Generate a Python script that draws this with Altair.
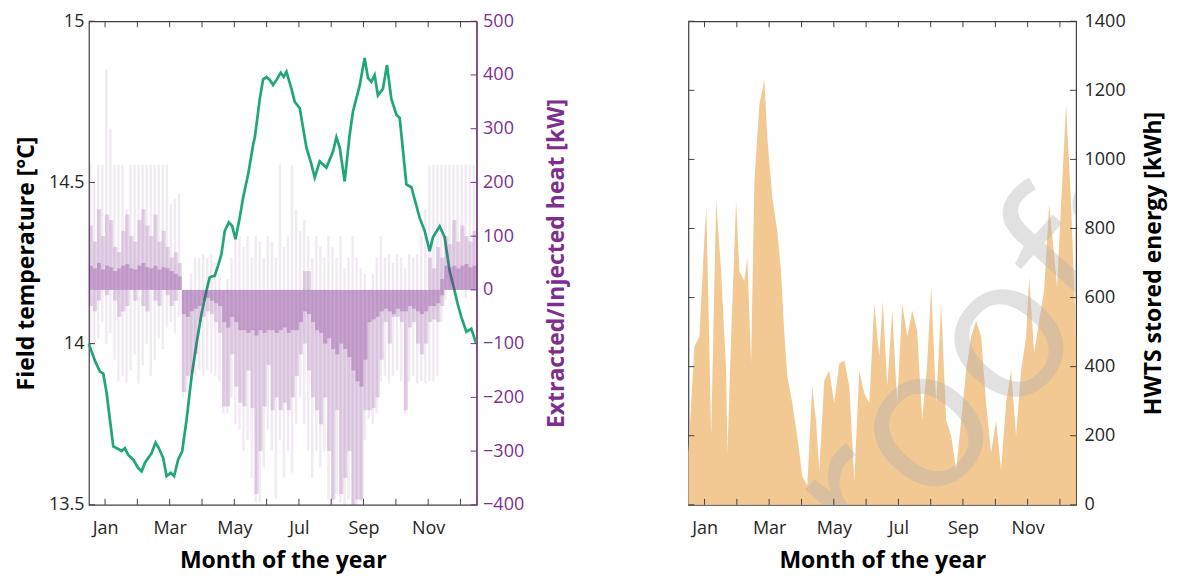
import altair as alt
import pandas as pd

# ---------------- data ----------------
# Field temperature (left panel, green line), day of year -> degC
temp_day = [0.0, 0.9, 5.6, 10.3, 13.5, 16.7, 19.8, 22.9, 27.6, 30.8, 33.9, 37.0, 41.7, 46.4, 49.6,
            52.7, 55.8, 59.0, 62.7, 65.8, 69.9, 73.1, 77.1, 80.2, 84.0, 87.8, 91.9, 96.6, 101.3, 106.0,
            110.7, 113.8, 118.5, 121.6, 124.8, 127.9, 131.7, 134.8, 138.0, 142.0, 145.2, 149.9, 154.6, 156.2, 160.9,
            164.0, 167.2, 170.3, 173.4, 176.6, 180.6, 183.4, 186.0, 190.7, 193.8, 198.5, 204.8, 209.5, 212.6, 217.3,
            223.6, 229.8, 233.0, 236.1, 240.8, 245.5, 248.6, 254.9, 259.6, 262.7, 265.9, 269.0, 272.1, 276.8, 280.6,
            284.7, 289.5, 292.6, 298.9, 303.6, 311.4, 316.1, 320.8, 323.9, 330.2, 334.9, 339.6, 344.3, 347.4, 350.6,
            355.3, 360.0, 364.7]
temp_val = [14.00, 13.99, 13.948, 13.913, 13.907, 13.846, 13.763, 13.681, 13.673, 13.667, 13.676, 13.655, 13.64, 13.614, 13.604,
            13.63, 13.645, 13.66, 13.693, 13.676, 13.645, 13.589, 13.599, 13.589, 13.64, 13.666, 13.763, 13.897, 14.0, 14.093,
            14.165, 14.206, 14.211, 14.242, 14.278, 14.35, 14.376, 14.365, 14.324, 14.391, 14.453, 14.525, 14.617, 14.64, 14.76,
            14.82, 14.827, 14.818, 14.802, 14.818, 14.84, 14.827, 14.843, 14.79, 14.75, 14.73, 14.608, 14.556, 14.515, 14.565,
            14.546, 14.596, 14.64, 14.608, 14.503, 14.648, 14.72, 14.80, 14.886, 14.824, 14.812, 14.833, 14.77, 14.79, 14.864,
            14.76, 14.71, 14.70, 14.494, 14.485, 14.39, 14.35, 14.287, 14.33, 14.364, 14.33, 14.225, 14.164, 14.12, 14.083,
            14.037, 14.046, 14.0]

# Extracted / injected heat [kW], 96 bins over the year, three density levels
heat_pos_faint = [233, 200, 233, 233, 410, 300, 233, 233, 233, 150, 233, 233, 233, 233, 233, 233, 233, 233, 233, 233, 160, 170, 180,
                  0, 0, 30, 60, 60,
                  67, 60, 67, 50, 30,
                  0, 20, 60, 100,
                  100, 80, 100, 60, 100, 90, 60, 100,
                  90, 60, 233, 80, 100, 233, 150, 110,
                  130, 100, 60,
                  100, 80, 60, 100, 80, 60, 100, 40, 60, 100, 60, 40, 30,
                  0, 30, 60, 100,
                  60, 67, 50, 67, 60, 40, 67, 60, 67, 100, 150,
                  233, 233, 233, 233,
                  233, 233, 233, 233, 233, 233, 233, 233]
heat_pos_mid = [120, 90, 150, 100, 140, 130, 80, 70, 110, 140, 100, 90, 130, 150, 120, 100, 140, 90, 110, 80, 60, 70, 50,
                0, 0, 0, 0, 0, 0, 0, 0, 0, 0, 0, 0, 0, 0, 0, 0, 0, 0, 0, 0, 0, 0, 0, 0, 0, 0, 0, 0, 0, 0,
                35, 35, 0,
                0, 0, 0, 0, 0, 0, 0, 0, 0, 0, 0, 0, 0, 0, 0, 0, 0, 0, 0, 0, 0, 0, 0, 0, 0, 0, 0, 0,
                60, 40, 80, 60,
                100, 85, 130, 90, 120, 100, 90, 110]
heat_pos_dense = [45, 40, 50, 38, 45, 42, 35, 40, 45, 48, 40, 38, 45, 50, 42, 40, 45, 38, 42, 40, 35, 30, 25,
                  0, 0, 0, 0, 0, 0, 0, 0, 0, 0, 0, 0, 0, 0, 0, 0, 0, 0, 0, 0, 0, 0, 0, 0, 0, 0, 0, 0, 0, 0,
                  0, 0, 0, 0, 0, 0, 0, 0, 0, 0, 0, 0, 0, 0, 0, 0, 0, 0, 0, 0, 0, 0, 0, 0, 0, 0, 0, 0, 0, 0, 0,
                  0, 0, 0, 20,
                  45, 42, 45, 40, 45, 48, 42, 45]
heat_neg_faint = [-110, -140, -90, -60, -100, -80, -130, -170, -160, -174, -150, -120, -174, -140, -100, -160, -130, -90, -110, -70, -60, -80, -50,
                  -200, -190, -170, -160, -150,
                  -160, -150, -155, -160, -170,
                  -230, -230, -200, -250,
                  -260, -300, -280, -350, -395, -395, -330, -260,
                  -300, -390, -280, -350, -300, -340, -250, -200,
                  -250, -300, -350,
                  -300, -330, -300, -390, -400, -380, -395, -400, -390, -400, -400, -395, -280,
                  -240, -250, -230, -170,
                  -160, -174, -160, -150, -170, -230, -170, -160, -174, -170, -174,
                  -170, -170, -160, -60,
                  -20, 0, -10, 0, 0, -15, 0, 0]
heat_neg_mid = [-30, -40, -20, 0, -10, 0, -20, -50, -40, -30, 0, -20, 0, -30, -40, 0, -20, -30, 0, -10, -30, -20, 0,
                -190, -160, -155, -120, -60,
                -50, -40, -45, -60, -80,
                -217, -217, -120, -180,
                -210, -217, -150, -220, -380, -300, -217, -140,
                -224, -200, -224, -210, -224, -200, -160, -120,
                -100, -150, -200,
                -224, -250, -200, -300, -390, -224, -380, -350, -300, -400, -390, -390, -224,
                -224, -220, -200, -130,
                -60, -100, -50, -50, -60, -224, -70, -60, -100, -120, -100,
                -60, -55, -60, -30,
                0, 0, 0, 0, 0, 0, 0, 0]
heat_neg_dense = [0, 0, 0, 0, 0, 0, 0, 0, 0, 0, 0, 0, 0, 0, 0, 0, 0, 0, 0, 0, 0, 0, 0,
                  -45, -50, -40, -35, -30,
                  -20, -15, -20, -25, -30,
                  -60, -70, -50, -60,
                  -75, -75, -80, -75, -85, -75, -80, -75,
                  -75, -80, -75, -70, -80, -75, -75, -60,
                  -40, -45, -60,
                  -75, -80, -100, -90, -110, -120, -100, -110, -125, -150, -170, -180, -130,
                  -60, -55, -50, -40,
                  -35, -40, -45, -35, -40, -40, -30, -35, -40, -45, -40,
                  -30, -30, -25, -10,
                  0, 0, 0, 0, 0, 0, 0, 0]

# HWTS stored energy [kWh] (right panel, orange area)
hwts_day = [0.0, 0.9, 5.6, 10.3, 15.1, 16.9, 21.4, 26.1, 30.8, 35.5, 36.7, 40.2, 44.9, 48.0, 52.7,
            55.5, 59.0, 62.1, 66.8, 71.5, 74.3, 79.0, 83.7, 87.2, 90.3, 93.1, 97.8, 102.5, 107.2, 111.9,
            116.6, 120.1, 123.2, 127.9, 132.6, 137.3, 142.0, 146.8, 151.5, 156.2, 160.9, 165.6, 170.3, 175.0, 179.7,
            183.0, 187.2, 191.9, 196.6, 201.3, 206.0, 210.7, 215.4, 220.1, 224.8, 228.6, 233.3, 238.0, 242.7, 247.4,
            252.1, 256.8, 261.5, 266.2, 270.9, 275.6, 280.3, 285.0, 289.7, 294.4, 299.1, 303.8, 308.5, 313.3, 318.0,
            320.8, 325.5, 330.2, 334.9, 339.6, 344.3, 347.1, 350.9, 355.6, 360.3, 365.0]
hwts_val = [150, 199, 458, 487, 775, 860, 199, 880, 677, 389, 150, 487, 880, 677, 648,
            716, 409, 936, 1158, 1230, 1063, 890, 792, 677, 496, 372, 294, 199, 83, 55,
            343, 245, 101, 360, 389, 294, 409, 418, 343, 72, 389, 323, 294, 582, 430,
            590, 343, 562, 294, 582, 487, 562, 504, 245, 409, 631, 294, 582, 245, 199,
            101, 245, 389, 487, 533, 487, 294, 150, 245, 101, 294, 389, 199, 389, 487,
            660, 438, 533, 619, 870, 726, 631, 870, 1158, 870, 487]

month_tick_days = [15.2, 45.6, 76.0, 106.5, 136.9, 167.3, 197.7, 228.1, 258.5, 289.0, 319.4, 349.8]
month_label_days = [15.2, 76.0, 136.9, 197.7, 258.5, 319.4]
month_labels = ["Jan", "Mar", "May", "Jul", "Sep", "Nov"]
temp_ticks = [13.5, 14.0, 14.5, 15.0]
heat_ticks = [-400, -300, -200, -100, 0, 100, 200, 300, 400, 500]
hwts_ticks = [0, 200, 400, 600, 800, 1000, 1200, 1400]
watermark = ["proofs"]

# ---------------- style ----------------
W, H = 388, 484
GREEN = "#1FA67A"
PURPLE = "#7E2F8E"
ORANGE = "#F2C993"
FRAME = "#404040"
FONT = "Open Sans"
TL = 6  # inward tick length
STREAK = {"faint": 0.6, "mid": 1.0, "dense": 1.0}  # fraction of bin width drawn

temp_df = pd.DataFrame({"day": temp_day, "temp": temp_val})
n = len(heat_pos_faint)
rows = []
levels = [("faint", heat_pos_faint, heat_neg_faint),
          ("mid", heat_pos_mid, heat_neg_mid),
          ("dense", heat_pos_dense, heat_neg_dense)]
for i in range(n):
    bw = 365 / n
    s = i * bw
    for lvl, pos, neg in levels:
        e = s + bw * STREAK[lvl]
        rows.append({"day": s, "end": e, "base": 0, "heat": pos[i], "level": lvl})
        rows.append({"day": s, "end": e, "base": 0, "heat": neg[i], "level": lvl})
heat_df = pd.DataFrame(rows)
hwts_df = pd.DataFrame({"day": hwts_day, "kwh": hwts_val})
mt_df = pd.DataFrame({"day": month_tick_days})
tt_df = pd.DataFrame({"temp": temp_ticks})
ht_df = pd.DataFrame({"heat": heat_ticks})
wt_df = pd.DataFrame({"kwh": hwts_ticks})
wm_df = pd.DataFrame({"t": watermark})

label_expr = "['" + "','".join(month_labels) + "'][round((datum.value - 15.2) / 60.84)]"
xscale = alt.Scale(domain=[0, 365], nice=False, zero=False)
xaxis = alt.Axis(values=month_label_days, labelExpr=label_expr, title="Month of the year",
                 ticks=False, domain=False, grid=False, labelPadding=15, titlePadding=12)

tscale = alt.Scale(domain=[13.5, 15], nice=False, zero=False)
taxis = alt.Axis(orient="left", values=temp_ticks, format="~g", title="Field temperature [°C]",
                 ticks=False, domain=False, grid=False, labelPadding=5, titlePadding=10)
hscale = alt.Scale(domain=[-400, 500], nice=False, zero=False)
haxis = alt.Axis(orient="right", values=heat_ticks, title="Extracted/Injected heat [kW]",
                 ticks=False, domain=True, domainColor=PURPLE, domainWidth=1.2, grid=False,
                 labelColor=PURPLE, titleColor=PURPLE, labelPadding=6, titlePadding=22,
                 titleAngle=270, titleBaseline="top")
wscale = alt.Scale(domain=[0, 1400], nice=False, zero=False)
waxis = alt.Axis(orient="right", values=hwts_ticks, format="d", title="HWTS stored energy [kWh]",
                 ticks=False, domain=False, grid=False, labelPadding=8, titlePadding=17,
                 titleAngle=270, titleBaseline="top")

X = alt.X("day:Q", scale=xscale, axis=xaxis)

def xticks(color):
    bottom = alt.Chart(mt_df).mark_rule(color=color, strokeWidth=1).encode(
        x=X, y=alt.value(H), y2=alt.value(H - TL))
    top = alt.Chart(mt_df).mark_rule(color=color, strokeWidth=1).encode(
        x=X, y=alt.value(0), y2=alt.value(TL))
    return bottom + top

# ----- left panel -----
line = alt.Chart(temp_df).mark_line(color=GREEN, strokeWidth=2.7).encode(
    x=X, y=alt.Y("temp:Q", scale=tscale, axis=taxis))
tticks = alt.Chart(tt_df).mark_rule(color=FRAME).encode(
    y=alt.Y("temp:Q", scale=tscale, axis=taxis), x=alt.value(0), x2=alt.value(TL))
left_a = alt.layer(line, tticks, xticks(FRAME))

bars = alt.Chart(heat_df).mark_rect(color=PURPLE).encode(
    x=X, x2="end:Q",
    y=alt.Y("heat:Q", scale=hscale, axis=haxis), y2="base:Q",
    opacity=alt.Opacity("level:N", scale=alt.Scale(domain=["faint", "mid", "dense"],
                                                   range=[0.1, 0.3, 0.45]), legend=None))
hticks = alt.Chart(ht_df).mark_rule(color=PURPLE).encode(
    y=alt.Y("heat:Q", scale=hscale, axis=haxis), x=alt.value(W), x2=alt.value(W - TL))
left_b = alt.layer(bars, hticks)

left = alt.layer(left_a, left_b).resolve_scale(y="independent").properties(width=W, height=H)

# ----- right panel -----
area = alt.Chart(hwts_df).mark_area(color=ORANGE, opacity=1, interpolate="linear").encode(
    x=X, y=alt.Y("kwh:Q", scale=wscale, axis=waxis))
mark_wm = alt.Chart(wm_df).mark_text(font=FONT, fontSize=200, angle=312, color="#B0B0B0",
                                     opacity=0.38, align="center", baseline="middle",
                                     clip=True).encode(
    text="t:N", x=alt.value(262), y=alt.value(378))
wl = alt.Chart(wt_df).mark_rule(color=FRAME).encode(
    y=alt.Y("kwh:Q", scale=wscale, axis=waxis), x=alt.value(0), x2=alt.value(TL))
wr = alt.Chart(wt_df).mark_rule(color=FRAME).encode(
    y=alt.Y("kwh:Q", scale=wscale, axis=waxis), x=alt.value(W), x2=alt.value(W - TL))
right = alt.layer(area, mark_wm, wl, wr, xticks(FRAME)).properties(width=W, height=H)

chart = alt.hconcat(left, right, spacing=212, bounds="flush").properties(
    padding={"left": 6, "top": 3, "right": 3, "bottom": 0}, background="white"
).configure_view(stroke=FRAME, strokeWidth=1.2).configure_axis(
    labelFont=FONT, labelFontSize=18, labelColor="#262626",
    titleFont=FONT, titleFontSize=23, titleFontWeight="bold", titleColor="#000000",
)

chart.save("out.html", embed_options={"renderer": "svg", "actions": False})
